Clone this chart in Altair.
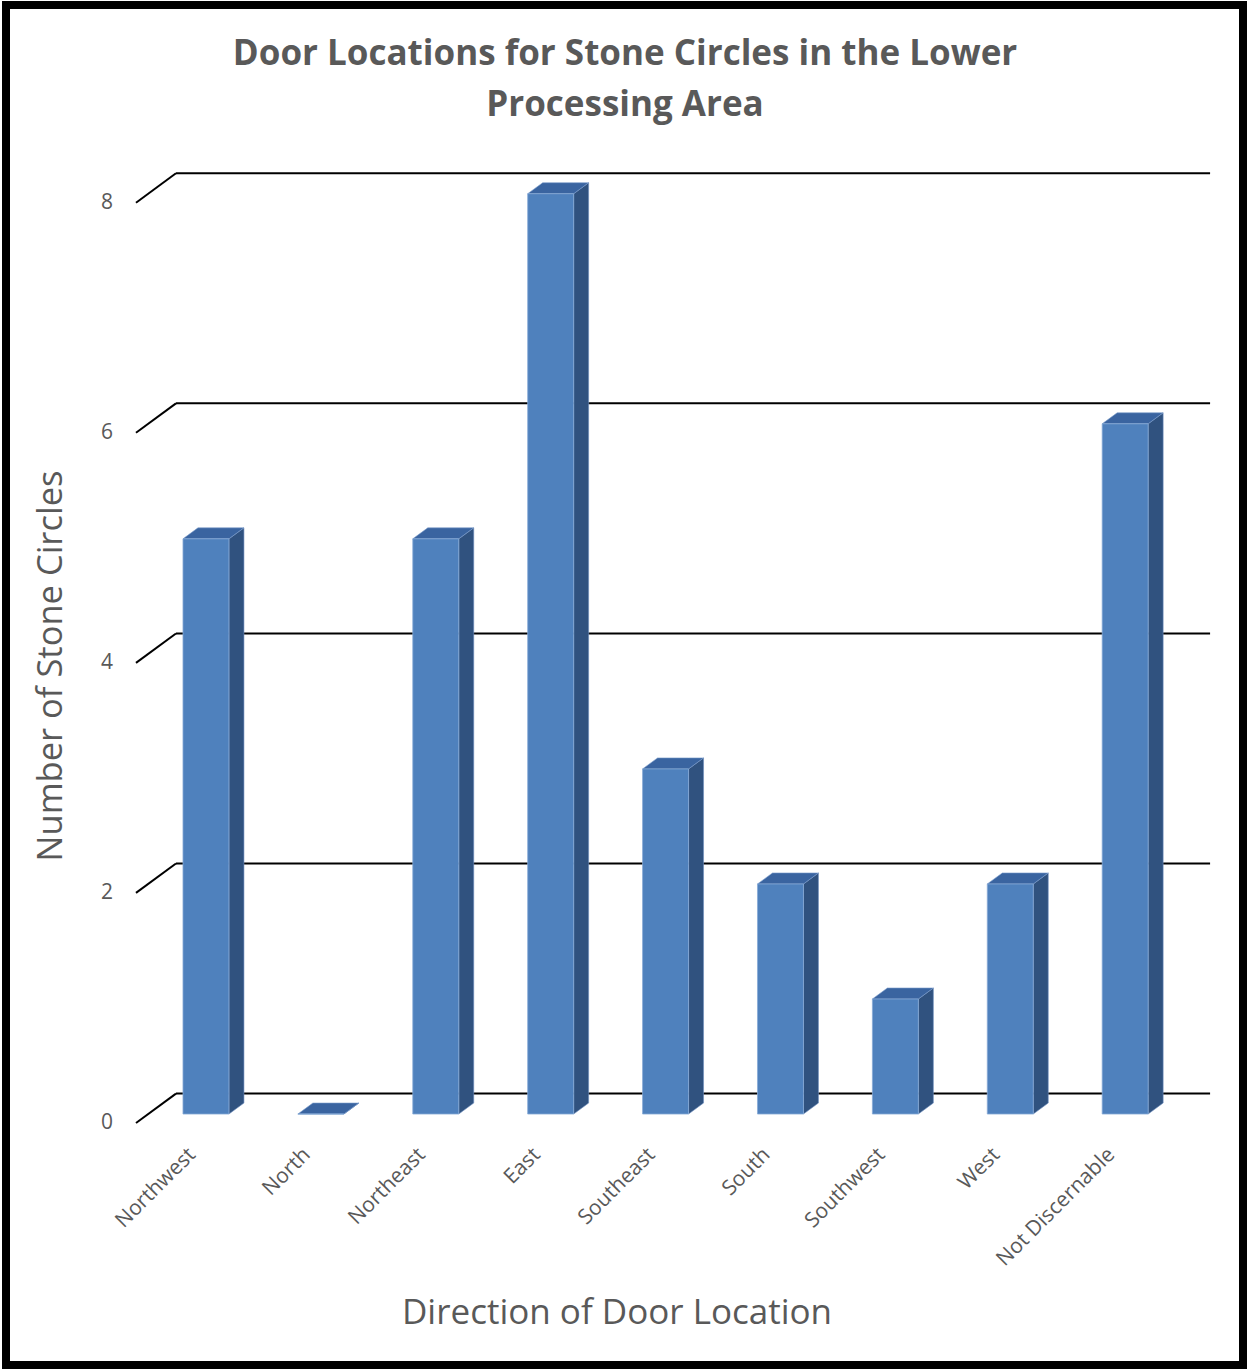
import altair as alt
import pandas as pd

# ---- data ----
categories = ["Northwest", "North", "Northeast", "East", "Southeast",
              "South", "Southwest", "West", "Not Discernable"]
counts = [5, 0, 5, 8, 3, 2, 1, 2, 6]
y_ticks = [0, 2, 4, 6, 8]
title_lines = ["Door Locations for Stone Circles in the Lower", "Processing Area"]
y_title = "Number of Stone Circles"
x_title = "Direction of Door Location"

# ---- geometry of the fake 3-D frame (in data units) ----
W, H = 1237, 1360
X_DOMAIN = [-1.1314, 9.6345]
Y_DOMAIN = [-2.1036, 9.7184]
WALL_DX, WALL_DY = 0.348, 0.2556      # back wall offset
BAR_X0, BAR_W = 0.409, 0.40           # front face placement in a category
BAR_Y0 = 0.078                        # front face floor
DEPTH_DX, DEPTH_DY = 0.1305, 0.0956   # bar depth

FRONT = "#4F81BD"
SIDE = "#30527F"
TOP = "#3A64A0"
TXT = "#595959"
FONT = "Open Sans"

n = len(categories)
front_rows, side_rows, top_rows = [], [], []
for i, (c, v) in enumerate(zip(categories, counts)):
    xl = i + BAR_X0
    xr = xl + BAR_W
    lo, hi = BAR_Y0, BAR_Y0 + v
    front_rows.append(dict(cat=c, x=xl, x2=xr, y=lo, y2=hi))
    side_rows += [dict(cat=c, x=xr, lo=lo, hi=hi),
                  dict(cat=c, x=xr + DEPTH_DX, lo=lo + DEPTH_DY, hi=hi + DEPTH_DY)]
    top_rows += [dict(cat=c, x=xl, lo=hi, hi=hi),
                 dict(cat=c, x=xl + DEPTH_DX, lo=hi, hi=hi + DEPTH_DY),
                 dict(cat=c, x=xr, lo=hi, hi=hi + DEPTH_DY),
                 dict(cat=c, x=xr + DEPTH_DX, lo=hi + DEPTH_DY, hi=hi + DEPTH_DY)]

front_df = pd.DataFrame(front_rows)
side_df = pd.DataFrame(side_rows)
top_df = pd.DataFrame(top_rows)
grid_df = pd.DataFrame(dict(v=y_ticks))
grid_df["x"] = WALL_DX
grid_df["x2"] = n + WALL_DX
grid_df["yb"] = grid_df["v"] + WALL_DY
grid_df["x0"] = 0.0
lab_df = pd.DataFrame(dict(cat=categories, i=list(range(n))))
lab_df["x"] = lab_df["i"] + 0.49
lab_df["y"] = -0.25
ylab_df = pd.DataFrame(dict(v=y_ticks))
ylab_df["x"] = -0.2

xs = alt.Scale(domain=X_DOMAIN, nice=False, zero=False)
ys = alt.Scale(domain=Y_DOMAIN, nice=False, zero=False)

grid = alt.Chart(grid_df).mark_rule(color="black", strokeWidth=2).encode(
    x=alt.X("x:Q", scale=xs, axis=None), x2="x2:Q",
    y=alt.Y("yb:Q", scale=ys, axis=None))
diag = alt.Chart(grid_df).mark_rule(color="black", strokeWidth=2).encode(
    x=alt.X("x0:Q", scale=xs, axis=None), x2="x:Q",
    y=alt.Y("v:Q", scale=ys, axis=None), y2="yb:Q")

side = alt.Chart(side_df).mark_area(color=SIDE, interpolate="linear",
                                    stroke="#6F8FBF", strokeWidth=0.6).encode(
    x=alt.X("x:Q", scale=xs, axis=None),
    y=alt.Y("hi:Q", scale=ys, axis=None), y2="lo:Q",
    detail="cat:N")
top = alt.Chart(top_df).mark_area(color=TOP, interpolate="linear",
                                  stroke="#7A9CCB", strokeWidth=0.6).encode(
    x=alt.X("x:Q", scale=xs, axis=None),
    y=alt.Y("hi:Q", scale=ys, axis=None), y2="lo:Q",
    detail="cat:N")
front = alt.Chart(front_df).mark_rect(color=FRONT, stroke="#86A9D5",
                                      strokeWidth=0.8).encode(
    x=alt.X("x:Q", scale=xs, axis=None), x2="x2:Q",
    y=alt.Y("y:Q", scale=ys, axis=None), y2="y2:Q")

xlabels = alt.Chart(lab_df).mark_text(angle=315, align="right", baseline="middle",
                                      font=FONT, fontSize=21, color=TXT).encode(
    x=alt.X("x:Q", scale=xs, axis=None),
    y=alt.Y("y:Q", scale=ys, axis=None),
    text="cat:N")
ylabels = alt.Chart(ylab_df).mark_text(align="right", baseline="middle",
                                       font=FONT, fontSize=21, color=TXT).encode(
    x=alt.X("x:Q", scale=xs, axis=None),
    y=alt.Y("v:Q", scale=ys, axis=None),
    text="v:Q")

t1 = alt.Chart(pd.DataFrame(dict(t=[title_lines[0]]))).mark_text(
    font=FONT, fontSize=35, fontWeight="bold", color=TXT, baseline="middle").encode(
    x=alt.value(619), y=alt.value(49), text="t:N")
t2 = alt.Chart(pd.DataFrame(dict(t=[title_lines[1]]))).mark_text(
    font=FONT, fontSize=35, fontWeight="bold", color=TXT, baseline="middle").encode(
    x=alt.value(619), y=alt.value(100), text="t:N")
ytit = alt.Chart(pd.DataFrame(dict(t=[y_title]))).mark_text(
    font=FONT, fontSize=34.5, color=TXT, angle=270, baseline="middle").encode(
    x=alt.value(46), y=alt.value(661), text="t:N")
xtit = alt.Chart(pd.DataFrame(dict(t=[x_title]))).mark_text(
    font=FONT, fontSize=35, color=TXT, baseline="middle").encode(
    x=alt.value(611), y=alt.value(1308), text="t:N")

chart = alt.layer(grid, diag, side, top, front, xlabels, ylabels,
                  t1, t2, ytit, xtit).properties(
    width=W, height=H,
    padding={"left": 6, "top": 5, "right": 4, "bottom": 4},
    autosize=alt.AutoSizeParams(type="none"),
    background="white",
).configure_view(stroke="black", strokeWidth=8)

chart.save("out.html", embed_options={"renderer": "svg", "actions": False})
